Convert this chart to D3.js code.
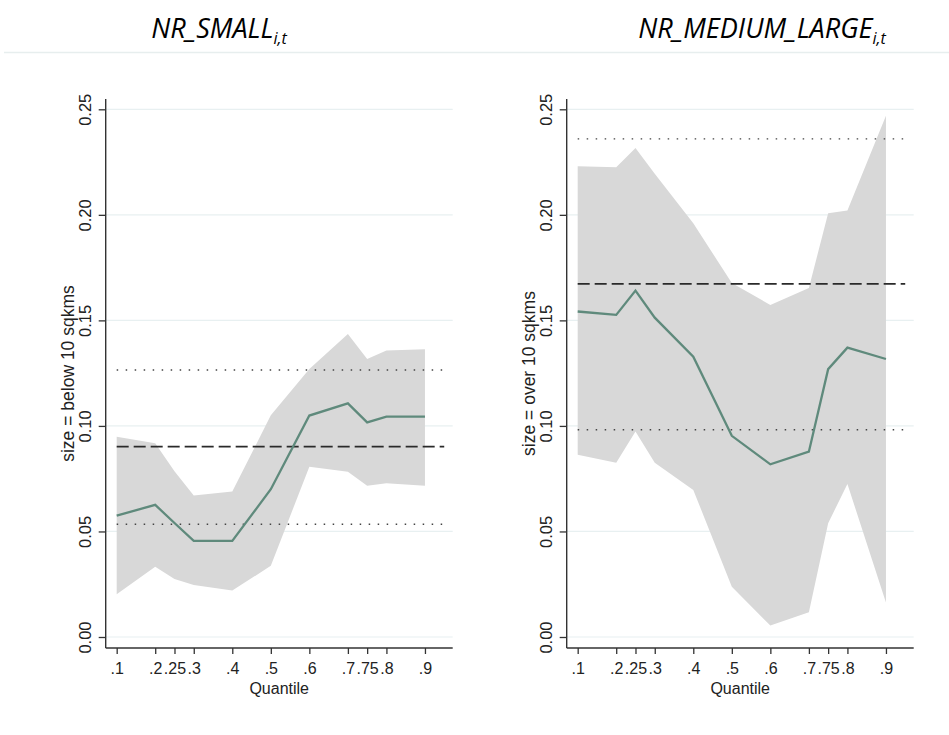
<!DOCTYPE html>
<html>
<head>
<meta charset="utf-8">
<script src="https://cdn.jsdelivr.net/npm/d3@7"></script>
<style>
  body { margin: 0; background: #fff; }
  svg text { font-family: "Liberation Sans", Arial, sans-serif; }
  svg text.titulo { font-family: "Open Sans", sans-serif; font-style: italic; }
</style>
</head>
<body>
<svg class="chart" width="949" height="735"></svg>
<script>
// quantis e rotulos do eixo x
var quantis = [0.1, 0.2, 0.25, 0.3, 0.4, 0.5, 0.6, 0.7, 0.75, 0.8, 0.9];
var rotulos_x = [".1", ".2", ".25", ".3", ".4", ".5", ".6", ".7", ".75", ".8", ".9"];
var ticks_y = [0, 0.05, 0.10, 0.15, 0.20, 0.25];

// painel esquerdo: below 10 sqkms
var small_coef = [0.0575, 0.0626, 0.0540, 0.0455, 0.0455, 0.0700, 0.1049, 0.1107, 0.1017, 0.1044, 0.1044];
var small_low  = [0.0202, 0.0333, 0.0275, 0.0246, 0.0220, 0.0337, 0.0807, 0.0783, 0.0717, 0.0728, 0.0717];
var small_high = [0.0949, 0.0918, 0.0785, 0.0670, 0.0689, 0.1050, 0.1270, 0.1435, 0.1317, 0.1357, 0.1363];
var small_ols = [0.0534, 0.0902, 0.1265]; // low, coef, high

// painel direito: over 10 sqkms
var med_coef = [0.1542, 0.1526, 0.1641, 0.1513, 0.1328, 0.0953, 0.0818, 0.0878, 0.1269, 0.1371, 0.1317];
var med_low  = [0.0863, 0.0826, 0.0973, 0.0826, 0.0697, 0.0238, 0.0054, 0.0117, 0.0539, 0.0725, 0.0163];
var med_high = [0.2230, 0.2226, 0.2317, 0.2195, 0.1960, 0.1677, 0.1573, 0.1653, 0.2008, 0.2021, 0.2470];
var med_ols = [0.0982, 0.1673, 0.2360];

var ols_fim = 0.95; // linhas horizontais vao de .1 ate aqui

var largura = 347;
var topo = 99, base = 648;

var chart = d3.select(".chart");

// linha separadora debaixo dos titulos
chart.append("line")
    .attr("x1", 4).attr("x2", 949)
    .attr("y1", 52.5).attr("y2", 52.5)
    .attr("stroke", "#e7eeee").attr("stroke-width", 1.5);

function titulo(txt, cx) {
    var t = chart.append("text")
        .attr("class", "titulo")
        .attr("x", cx).attr("y", 38)
        .attr("text-anchor", "middle")
        .style("font-size", "27px")
        .attr("fill", "#000");
    t.append("tspan").text(txt);
    t.append("tspan").attr("dy", 6).style("font-size", "16px").text("i,t");
}

titulo("NR_SMALL", 219);
titulo("NR_MEDIUM_LARGE", 762);

function desenha_painel(x0, coef, low, high, ols, titulo_y) {

    var x = d3.scaleLinear()
        .domain([0.0715, 0.972])
        .range([x0, x0 + largura]);

    var y = d3.scaleLinear()
        .domain([0, 0.25])
        .range([637, 109.3]);

    var g = chart.append("g");

    // grade
    g.selectAll(".grade")
        .data(ticks_y)
        .enter().append("line")
        .attr("x1", x0).attr("x2", x0 + largura)
        .attr("y1", function(d) { return y(d); })
        .attr("y2", function(d) { return y(d); })
        .attr("stroke", "#e8f0f1").attr("stroke-width", 1.2);

    // banda de confianca
    var area = d3.area()
        .x(function(d, i) { return x(quantis[i]); })
        .y0(function(d, i) { return y(low[i]); })
        .y1(function(d, i) { return y(high[i]); });

    g.append("path")
        .datum(coef)
        .attr("d", area)
        .attr("fill", "#d8d8d8");

    // linhas OLS
    var estilos = ["1.5,7.5", "12,5", "1.5,7.5"];
    ols.forEach(function(v, i) {
        g.append("line")
            .attr("x1", x(0.1)).attr("x2", x(ols_fim))
            .attr("y1", y(v)).attr("y2", y(v))
            .attr("stroke", i == 1 ? "#2a2a2a" : "#444")
            .attr("stroke-width", i == 1 ? 1.7 : 1.4)
            .attr("stroke-dasharray", estilos[i]);
    });

    // coeficientes
    var linha = d3.line()
        .x(function(d, i) { return x(quantis[i]); })
        .y(function(d) { return y(d); });

    g.append("path")
        .datum(coef)
        .attr("d", linha)
        .attr("fill", "none")
        .attr("stroke", "#5f8a7c")
        .attr("stroke-width", 2.3);

    // eixo y
    var ay = g.append("g")
        .attr("transform", "translate(" + x0 + ",0)")
        .call(d3.axisLeft(y).tickValues(ticks_y).tickSize(7).tickFormat(d3.format(".2f")));
    ay.select(".domain").remove();
    ay.selectAll("line").attr("stroke", "#333").attr("stroke-width", 1.3);
    ay.selectAll("text")
        .attr("x", null).attr("dy", null)
        .attr("transform", "translate(-15,0) rotate(-90)")
        .attr("text-anchor", "middle")
        .style("font-size", "16.5px")
        .attr("fill", "#222");

    // eixo x
    var ax = g.append("g")
        .attr("transform", "translate(0," + base + ")")
        .call(d3.axisBottom(x).tickValues(quantis).tickSize(6)
            .tickFormat(function(d, i) { return rotulos_x[i]; }));
    ax.select(".domain").remove();
    ax.selectAll("line").attr("stroke", "#333").attr("stroke-width", 1.3);
    ax.selectAll("text")
        .attr("y", 26).attr("dy", null)
        .style("font-size", "16px")
        .attr("fill", "#222");

    // linhas dos eixos
    g.append("line")
        .attr("x1", x0).attr("x2", x0)
        .attr("y1", topo).attr("y2", base)
        .attr("stroke", "#333").attr("stroke-width", 1.4);
    g.append("line")
        .attr("x1", x0).attr("x2", x0 + largura)
        .attr("y1", base).attr("y2", base)
        .attr("stroke", "#333").attr("stroke-width", 1.4);

    // titulos dos eixos
    g.append("text")
        .attr("transform", "translate(" + (x0 + largura / 2) + "," + (base + 46) + ")")
        .attr("text-anchor", "middle")
        .style("font-size", "16px")
        .attr("fill", "#222")
        .text("Quantile");

    g.append("text")
        .attr("transform", "translate(" + (x0 - 32) + "," + ((topo + base) / 2) + ") rotate(-90)")
        .attr("text-anchor", "middle")
        .style("font-size", "17.5px")
        .attr("fill", "#222")
        .text(titulo_y);
}

desenha_painel(105.7, small_coef, small_low, small_high, small_ols, "size = below 10 sqkms");
desenha_painel(566.7, med_coef, med_low, med_high, med_ols, "size = over 10 sqkms");
</script>
</body>
</html>
